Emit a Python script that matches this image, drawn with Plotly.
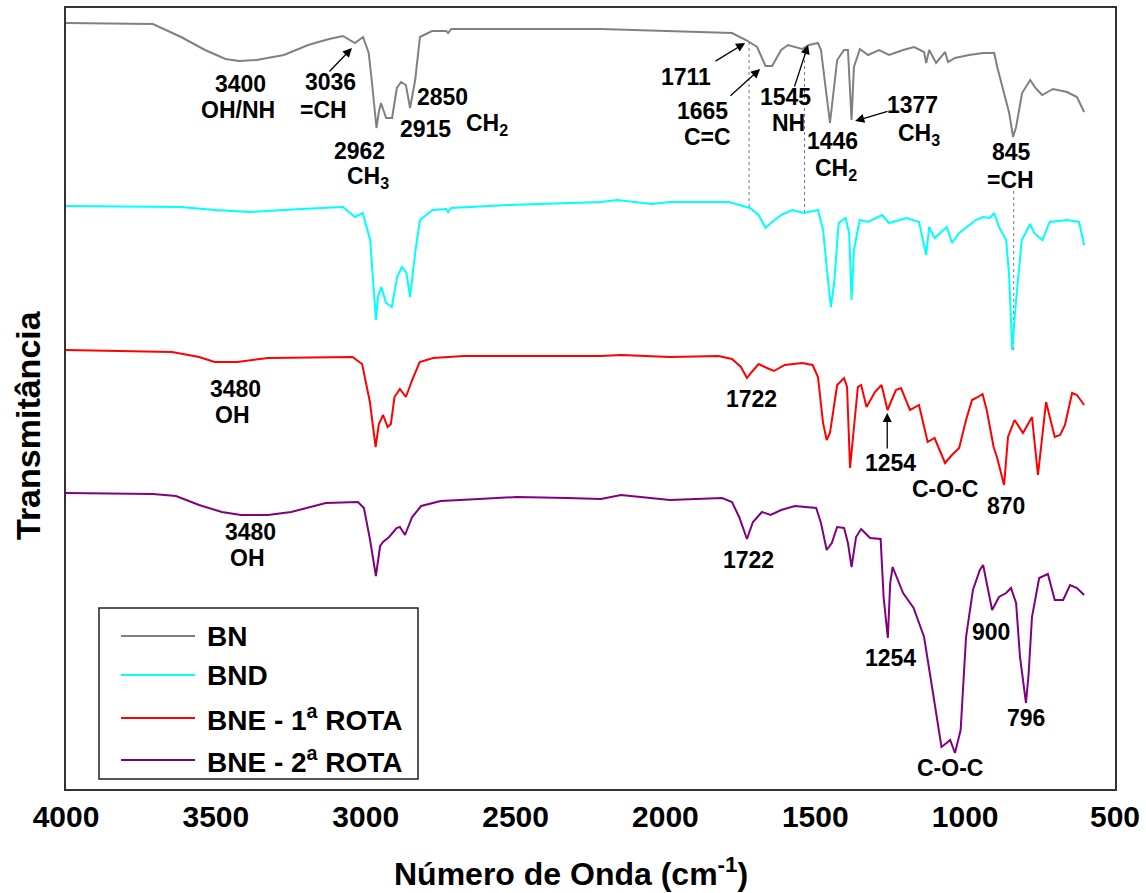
import plotly.graph_objects as go

# ---------------- data (wavenumber cm-1, stacked transmittance a.u.) ----------------
WAVENUMBER_TICKS = [4000, 3500, 3000, 2500, 2000, 1500, 1000, 500]
SERIES_NAMES = ["BN", "BND", "BNE - 1<sup>a</sup> ROTA", "BNE - 2<sup>a</sup> ROTA"]
X_TITLE = "Número de Onda (cm<sup>-1</sup>)"
Y_TITLE = "Transmitância"

BN = [(4000, 766), (3710, 765), (3616, 752), (3536, 739), (3468, 730), (3423, 728), (3364, 729),
      (3273, 734), (3192, 744), (3122, 750), (3076, 753), (3036, 746), (3009, 752), (2990, 736),
      (2979, 706), (2964, 661), (2957, 676), (2949, 686), (2932, 671), (2912, 671), (2896, 701),
      (2882, 707), (2866, 704), (2852, 681), (2835, 709), (2819, 752), (2779, 758), (2732, 758),
      (2725, 756), (2715, 760), (2215, 760), (1871, 757), (1778, 756), (1731, 749), (1694, 742),
      (1666, 723), (1644, 723), (1614, 739), (1591, 744), (1544, 740), (1521, 744), (1491, 746),
      (1481, 739), (1451, 666), (1427, 729), (1404, 739), (1391, 739), (1379, 669), (1371, 722),
      (1351, 740), (1324, 734), (1287, 739), (1254, 734), (1207, 739), (1170, 742), (1137, 737),
      (1130, 726), (1120, 739), (1097, 726), (1067, 737), (1057, 727), (1034, 731), (987, 734),
      (940, 736), (903, 736), (893, 722), (870, 696), (853, 676), (840, 652), (830, 662),
      (810, 696), (783, 709), (765, 701), (743, 694), (707, 700), (660, 697), (627, 692), (603, 677)]

BND = [(4000, 583), (3617, 582), (3503, 579), (3387, 577), (3216, 580), (3076, 582), (3036, 572),
       (3010, 576), (2985, 549), (2976, 506), (2966, 469), (2959, 492), (2948, 502), (2932, 486),
       (2913, 482), (2895, 512), (2879, 522), (2864, 516), (2852, 492), (2835, 536), (2819, 569),
       (2777, 579), (2732, 580), (2725, 577), (2715, 581), (2525, 584), (2216, 587), (2161, 589),
       (2045, 585), (1985, 587), (1788, 587), (1754, 584), (1718, 581), (1689, 574), (1666, 561),
       (1648, 566), (1614, 574), (1577, 579), (1537, 576), (1491, 579), (1474, 559), (1462, 522),
       (1448, 482), (1437, 506), (1422, 566), (1399, 571), (1387, 556), (1379, 489), (1371, 539),
       (1352, 569), (1324, 567), (1277, 574), (1254, 566), (1195, 571), (1154, 567), (1130, 534),
       (1120, 562), (1102, 551), (1061, 562), (1044, 546), (1020, 556), (964, 569), (940, 572),
       (917, 571), (903, 576), (887, 562), (863, 549), (853, 512), (843, 439), (830, 489),
       (811, 549), (783, 565), (770, 556), (742, 549), (718, 567), (660, 569), (620, 567), (603, 544)]

BNE1 = [(4000, 439), (3836, 438), (3646, 437), (3556, 432), (3504, 427), (3428, 427), (3326, 431),
        (3044, 432), (3012, 425), (2986, 387), (2967, 342), (2956, 365), (2942, 374), (2927, 362),
        (2916, 365), (2904, 392), (2886, 400), (2866, 392), (2845, 409), (2820, 427), (2775, 431),
        (2673, 433), (2216, 433), (2148, 434), (1985, 432), (1823, 433), (1778, 430), (1748, 422),
        (1728, 411), (1712, 417), (1689, 425), (1661, 421), (1638, 418), (1602, 424), (1544, 426),
        (1509, 424), (1491, 412), (1474, 366), (1462, 349), (1451, 356), (1427, 404), (1404, 411),
        (1394, 402), (1384, 321), (1375, 349), (1358, 402), (1347, 404), (1329, 382), (1301, 397),
        (1279, 404), (1259, 379), (1231, 399), (1214, 401), (1184, 379), (1154, 384), (1125, 347),
        (1102, 351), (1067, 326), (1044, 334), (1020, 341), (997, 369), (977, 389), (957, 392),
        (942, 395), (928, 379), (905, 342), (894, 332), (870, 304), (857, 352), (835, 369),
        (807, 356), (777, 372), (757, 314), (730, 387), (701, 352), (683, 354), (667, 364),
        (643, 396), (627, 394), (603, 384)]

BNE2 = [(4000, 296), (3710, 295), (3633, 293), (3556, 284), (3480, 277), (3416, 274), (3326, 274),
        (3249, 277), (3133, 286), (3026, 287), (3006, 281), (2986, 250), (2966, 213), (2952, 243),
        (2942, 247), (2922, 252), (2897, 261), (2886, 262), (2869, 254), (2845, 272), (2815, 283),
        (2750, 288), (2622, 290), (2495, 292), (2328, 291), (2215, 290), (2148, 294), (1985, 289),
        (1811, 291), (1778, 287), (1754, 272), (1728, 250), (1708, 267), (1678, 277), (1649, 274),
        (1614, 279), (1568, 283), (1497, 281), (1481, 266), (1462, 239), (1445, 246), (1427, 262),
        (1404, 261), (1391, 246), (1379, 222), (1364, 252), (1347, 260), (1317, 251), (1282, 250),
        (1272, 192), (1258, 151), (1250, 206), (1242, 222), (1207, 196), (1172, 181), (1137, 152),
        (1102, 86), (1079, 42), (1062, 46), (1050, 49), (1034, 36), (1015, 59), (997, 152),
        (974, 199), (951, 219), (940, 224), (928, 206), (910, 179), (887, 192), (863, 196),
        (847, 201), (830, 186), (817, 132), (797, 86), (788, 116), (777, 172), (753, 211),
        (724, 215), (701, 189), (673, 189), (650, 204), (627, 201), (603, 194)]

SERIES = [BN, BND, BNE1, BNE2]
COLORS = ["#808080", "#00FFFF", "#FF0000", "#800080"]

# peak labels: (text, wavenumber, level)
PEAK_LABELS = [
    ("3400", 3419, 705), ("OH/NH", 3426, 679), ("3036", 3119, 707), ("=CH", 3142, 679),
    ("2962", 3022, 638), ("CH<sub>3</sub>", 2992, 612), ("2915", 2802, 660), ("2850", 2745, 692),
    ("CH<sub>2</sub>", 2595, 665), ("1711", 1931, 712), ("1665", 1875, 678), ("C=C", 1861, 652),
    ("1545", 1601, 692), ("NH", 1588, 666), ("1446", 1444, 648), ("CH<sub>2</sub>", 1431, 620),
    ("1377", 1177, 684), ("CH<sub>3</sub>", 1154, 655), ("845", 847, 637), ("=CH", 850, 609),
    ("3480", 3433, 400), ("OH", 3443, 374), ("3480", 3386, 257), ("OH", 3393, 231),
    ("1722", 1714, 390), ("1254", 1250, 326), ("C-O-C", 1067, 300), ("870", 863, 283),
    ("1722", 1724, 229), ("1254", 1250, 131), ("900", 913, 157), ("796", 797, 71),
    ("C-O-C", 1050, 21),
]
# arrows: (tail wn, tail level, tip wn, tip level)
ARROWS = [(3126, 716, 3046, 741), (1838, 727, 1734, 746), (1788, 692, 1684, 720),
          (1571, 701, 1524, 744), (1254, 678, 1367, 668), (1260, 339, 1260, 376)]
# dotted guide lines: (wn, level from, level to)
GUIDES = [(1721, 747, 581), (1536, 741, 574), (838, 598, 439)]

FONT = "Liberation Sans, Arial, sans-serif"

fig = go.Figure()
for name, pts, color in zip(SERIES_NAMES, SERIES, COLORS):
    fig.add_trace(go.Scatter(x=[p[0] for p in pts], y=[p[1] for p in pts], mode="lines",
                             name=name, line=dict(color=color, width=2), showlegend=False))

annotations = []
for text, x, y in PEAK_LABELS:
    annotations.append(dict(text=text, x=x, y=y, xref="x", yref="y", showarrow=False,
                            xanchor="center", yanchor="middle",
                            font=dict(family=FONT, size=23, color="black", weight="bold")))
for tx, ty, hx, hy in ARROWS:
    annotations.append(dict(text="", x=hx, y=hy, ax=tx, ay=ty, xref="x", yref="y",
                            axref="x", ayref="y", showarrow=True, arrowhead=2, arrowsize=1.4,
                            arrowwidth=1.3, arrowcolor="black", standoff=0, startstandoff=0))

shapes = []
for wn, y0, y1 in GUIDES:
    shapes.append(dict(type="line", xref="x", yref="y", x0=wn, x1=wn, y0=y0, y1=y1,
                       line=dict(color="#777777", width=1, dash="dot"), layer="below"))

# pixel layout converted to paper fractions
PL, PR, PT, PB = 66, 1115, 8, 789
def px(xp):
    return (xp - PL) / (PR - PL)
def py(yp):
    return (PB - yp) / (PB - PT)

# axis titles
annotations.append(dict(text=X_TITLE, x=px(571), y=py(872), xref="paper", yref="paper",
                        showarrow=False, xanchor="center", yanchor="middle",
                        font=dict(family=FONT, size=32, color="black", weight="bold")))
annotations.append(dict(text=Y_TITLE, x=px(28), y=py(425), xref="paper", yref="paper",
                        showarrow=False, xanchor="center", yanchor="middle", textangle=-90,
                        font=dict(family=FONT, size=34, color="black", weight="bold")))

# manual legend
shapes.append(dict(type="rect", xref="paper", yref="paper", x0=px(99), x1=px(418),
                   y0=py(779), y1=py(608), line=dict(color="#222222", width=1.5),
                   fillcolor="white", layer="above"))
LEGEND_ROWS = [636, 675, 718, 760]
for name, color, yr in zip(SERIES_NAMES, COLORS, LEGEND_ROWS):
    shapes.append(dict(type="line", xref="paper", yref="paper", x0=px(121), x1=px(195),
                       y0=py(yr), y1=py(yr), line=dict(color=color, width=2), layer="above"))
    annotations.append(dict(text=name, x=px(205), y=py(yr), xref="paper", yref="paper",
                            showarrow=False, xanchor="left", yanchor="middle",
                            font=dict(family=FONT, size=28, color="black", weight="bold")))

fig.update_layout(
    width=1146, height=893,
    margin=dict(l=PL, r=1146 - PR, t=PT, b=893 - PB, autoexpand=False),
    paper_bgcolor="white", plot_bgcolor="white",
    annotations=annotations, shapes=shapes,
    xaxis=dict(range=[4000, 500], tickvals=WAVENUMBER_TICKS, showgrid=False, zeroline=False,
               automargin=False,
               showline=True, mirror=True, linecolor="#333333", linewidth=2,
               ticks="",
               tickfont=dict(family=FONT, size=30, color="black", weight="bold")),
    yaxis=dict(range=[0, 781], showticklabels=False, ticks="", showgrid=False, zeroline=False,
               automargin=False,
               showline=True, mirror=True, linecolor="#333333", linewidth=2),
)

fig.write_html("out.html", config={"displayModeBar": False},
               post_script="document.body.style.margin='0';document.body.style.overflow='hidden';")
